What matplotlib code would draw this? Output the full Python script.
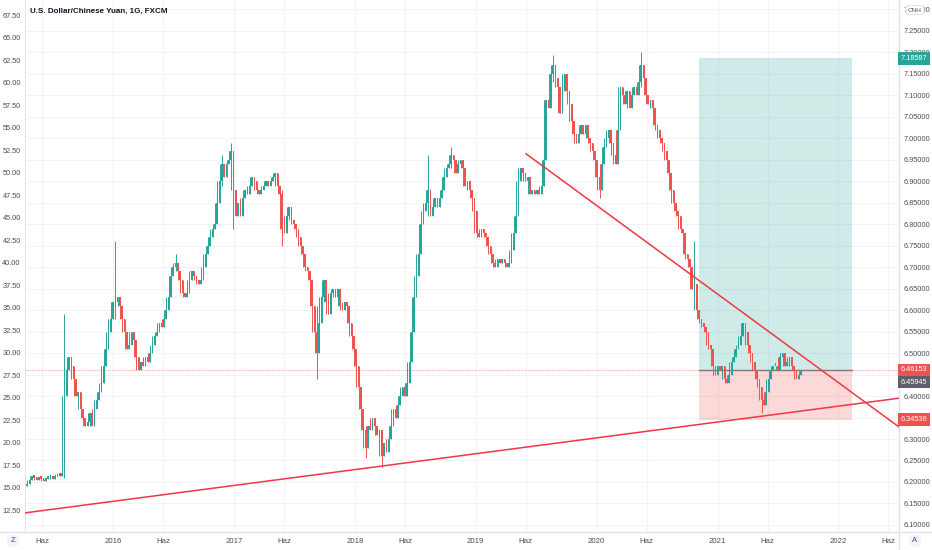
import matplotlib.pyplot as plt
import matplotlib.transforms as mtransforms
from matplotlib.lines import Line2D
import numpy as np
import pandas as pd

# weekly closes of USD/CNH (Apr 2015 - Sep 2021)
closes = [
    6.195, 6.205, 6.215, 6.210, 6.205, 6.212, 6.208, 6.203, 6.207, 6.210,
    6.212, 6.208, 6.213, 6.218, 6.215, 6.220, 6.400, 6.460, 6.490, 6.470,
    6.440, 6.400, 6.410, 6.370, 6.350, 6.330, 6.340, 6.360, 6.330, 6.370,
    6.390, 6.410, 6.430, 6.470, 6.510, 6.550, 6.580, 6.620, 6.620, 6.630,
    6.610, 6.580, 6.550, 6.510, 6.520, 6.550, 6.530, 6.490, 6.460, 6.480,
    6.470, 6.490, 6.480, 6.500, 6.520, 6.540, 6.550, 6.570, 6.560, 6.580,
    6.600, 6.630, 6.680, 6.700, 6.710, 6.690, 6.670, 6.640, 6.630, 6.640,
    6.670, 6.690, 6.680, 6.670, 6.660, 6.670, 6.700, 6.730, 6.750, 6.770,
    6.790, 6.800, 6.850, 6.900, 6.940, 6.910, 6.940, 6.950, 6.970, 6.880,
    6.820, 6.850, 6.820, 6.860, 6.880, 6.870, 6.890, 6.910, 6.900, 6.880,
    6.870, 6.880, 6.890, 6.900, 6.890, 6.900, 6.910, 6.920, 6.890, 6.870,
    6.790, 6.780, 6.820, 6.840, 6.810, 6.800, 6.790, 6.770, 6.750, 6.730,
    6.700, 6.690, 6.670, 6.610, 6.550, 6.500, 6.570, 6.630, 6.670, 6.620,
    6.590, 6.640, 6.650, 6.630, 6.650, 6.610, 6.600, 6.620, 6.610, 6.570,
    6.540, 6.510, 6.470, 6.420, 6.370, 6.320, 6.280, 6.330, 6.320, 6.350,
    6.330, 6.310, 6.320, 6.260, 6.290, 6.270, 6.300, 6.330, 6.370, 6.350,
    6.380, 6.400, 6.420, 6.400, 6.430, 6.480, 6.550, 6.630, 6.680, 6.730,
    6.800, 6.830, 6.850, 6.880, 6.820, 6.840, 6.860, 6.840, 6.860, 6.880,
    6.910, 6.930, 6.940, 6.960, 6.950, 6.920, 6.940, 6.950, 6.930, 6.890,
    6.900, 6.880, 6.860, 6.830, 6.780, 6.770, 6.790, 6.780, 6.770, 6.750,
    6.730, 6.710, 6.700, 6.720, 6.710, 6.720, 6.710, 6.700, 6.710, 6.740,
    6.780, 6.820, 6.900, 6.930, 6.920, 6.900, 6.910, 6.870, 6.880, 6.870,
    6.880, 6.870, 6.890, 6.950, 7.090, 7.070, 7.150, 7.170, 7.140, 7.120,
    7.060, 7.110, 7.150, 7.110, 7.080, 7.040, 7.010, 6.990, 7.010, 7.030,
    7.010, 7.030, 7.000, 6.990, 6.970, 6.950, 6.910, 6.880, 6.940, 6.980,
    7.000, 7.020, 6.990, 6.960, 6.940, 7.020, 7.120, 7.100, 7.080, 7.110,
    7.070, 7.100, 7.120, 7.100, 7.130, 7.170, 7.140, 7.100, 7.080, 7.090,
    7.070, 7.030, 7.020, 7.000, 6.990, 6.970, 6.950, 6.920, 6.880, 6.850,
    6.830, 6.820, 6.790, 6.780, 6.730, 6.720, 6.700, 6.650, 6.660, 6.600,
    6.580, 6.570, 6.560, 6.550, 6.520, 6.510, 6.470, 6.450, 6.470, 6.460,
    6.470, 6.440, 6.430, 6.450, 6.480, 6.490, 6.510, 6.520, 6.540, 6.570,
    6.550, 6.520, 6.500, 6.480, 6.460, 6.440, 6.420, 6.390, 6.380, 6.410,
    6.440, 6.460, 6.470, 6.470, 6.460, 6.490, 6.500, 6.470, 6.480, 6.490,
    6.470, 6.460, 6.440, 6.450, 6.45945,
]
first_open = 6.190

# spikes that stick out of the bodies
wick_idx = [16, 38, 64, 84, 88, 89, 110, 125, 146, 153, 173, 183, 227, 247, 265, 288, 317]
wick_hi = [6.59, 6.76, 6.73, 6.96, 6.99, 6.97, 6.88, 6.61, 6.33, 6.32, 6.96, 6.98, 7.195, 6.94, 7.20, 6.76, 6.42]
wick_lo = [6.21, 6.58, 6.69, 6.89, 6.94, 6.79, 6.75, 6.44, 6.255, 6.235, 6.84, 6.93, 7.13, 6.86, 7.12, 6.63, 6.36]

entry = 6.46153
target = 7.18587
stop = 6.34536
last = 6.45945
box_dates = ['2020-11-06', '2022-02-12']

up_line_dates = ['2015-04-10', '2022-07-03']
up_line_prices = [6.128, 6.395]
down_line_dates = ['2019-06-02', '2022-07-03']
down_line_prices = [6.964, 6.328]

plt.rcParams['font.family'] = ['Liberation Sans', 'DejaVu Sans']

UP = '#26a69a'
DOWN = '#ef5350'
GRID = '#f0f3fa'
SEP = '#e0e3eb'
TXT = '#4a4d57'
FS = 5.3

fig = plt.figure(figsize=(9.32, 5.5), dpi=100)
ax = fig.add_axes([25 / 932, 18 / 550, 874 / 932, 532 / 550])

dates = pd.date_range('2015-04-17', periods=len(closes), freq='W-FRI')
cl = np.array(closes)
op = np.array([first_open] + closes[:-1])
nxt = np.array(closes[1:] + closes[-1:])
colors = [UP if c >= o else DOWN for o, c in zip(op, cl)]
body_lo = np.minimum(op, cl)
body_h = np.maximum(np.abs(cl - op), 0.006)

# wicks reach to the neighbouring closes, plus the visible spikes
hi = np.maximum(np.maximum(op, cl), nxt)
lo = np.minimum(np.minimum(op, cl), nxt)
for i, h, l in zip(wick_idx, wick_hi, wick_lo):
    hi[i] = max(hi[i], h)
    lo[i] = min(lo[i], l)
ax.vlines(dates, lo, hi, colors=colors, linewidth=0.7, zorder=3)
ax.bar(dates, body_h, bottom=body_lo, width=5, color=colors, linewidth=0, zorder=3)

# long position box
b0, b1 = pd.to_datetime(box_dates)
ax.fill_between([b0, b1], entry, target, color=UP, alpha=0.22, linewidth=0, zorder=1)
ax.fill_between([b0, b1], stop, entry, color=DOWN, alpha=0.22, linewidth=0, zorder=1)
ax.plot([b0, b1], [entry, entry], color='#787b86', linewidth=1, zorder=2)
ax.axhline(entry, color=DOWN, linewidth=0.8, linestyle=(0, (1, 1)), alpha=0.45, zorder=2)

# trend lines
ax.plot(pd.to_datetime(up_line_dates), up_line_prices, color='#f23645', linewidth=1.1, zorder=4)
ax.plot(pd.to_datetime(down_line_dates), down_line_prices, color='#f23645', linewidth=1.1, zorder=4)

ax.set_xlim(pd.Timestamp('2015-04-10'), pd.Timestamp('2022-07-03'))
ax.set_ylim(6.0835, 7.322)

# x ticks: June + January
xt = []
xl = []
for yr in range(2015, 2023):
    if yr > 2015:
        xt.append(pd.Timestamp(f'{yr}-01-01'))
        xl.append(str(yr))
    xt.append(pd.Timestamp(f'{yr}-06-01'))
    xl.append('Haz')
ax.set_xticks(xt)
ax.set_xticklabels(xl)
ax.tick_params(axis='x', length=0, pad=4, labelsize=5.6, labelcolor=TXT)

ax.yaxis.tick_right()
ax.set_yticks(np.arange(6.10, 7.301, 0.05))
ax.yaxis.set_major_formatter(plt.FuncFormatter(lambda v, p: f'{v:.5f}'))
ax.tick_params(axis='y', length=0, pad=3.5, labelsize=FS, labelcolor=TXT)
ax.grid(True, color=GRID, linewidth=0.8, zorder=0)
ax.set_axisbelow(True)

sec = ax.secondary_yaxis('left', functions=(lambda p: 65.755 + 47.75 * (p - 7.25),
                                            lambda v: 7.25 + (v - 65.755) / 47.75))
sec.set_yticks(np.arange(12.5, 67.6, 2.5))
sec.yaxis.set_major_formatter(plt.FuncFormatter(lambda v, p: f'{v:.2f}'))
sec.tick_params(length=0, pad=3, labelsize=FS, labelcolor=TXT)
sec.spines['left'].set_color(SEP)

ax.spines['top'].set_visible(False)
ax.spines['left'].set_visible(False)
ax.spines['right'].set_color(SEP)
ax.spines['bottom'].set_color(SEP)

fig.add_artist(Line2D([899 / 932, 899 / 932], [0, 1], color=SEP, linewidth=1))
fig.add_artist(Line2D([0, 1], [18 / 550, 18 / 550], color=SEP, linewidth=1))

ax.text(0.006, 0.985, 'U.S. Dollar/Chinese Yuan, 1G, FXCM', transform=ax.transAxes,
        fontsize=5.8, fontweight='bold', color='#131722', va='top', ha='left')

# price tags on the right scale (figure level so they sit above tick labels)
tag_trans = mtransforms.blended_transform_factory(fig.transFigure, ax.transData)
tags = [(target, UP, 0), (entry, DOWN, 0), (last, '#5d606b', -11.5), (stop, DOWN, 0)]
for val, col, dy in tags:
    tr = tag_trans + mtransforms.ScaledTranslation(0, dy / 100, fig.dpi_scale_trans)
    fig.text(914 / 932, val, f'{val:.5f}', transform=tr, fontsize=FS, color='white',
             va='center', ha='center',
             bbox=dict(boxstyle='square,pad=0.35', facecolor=col, edgecolor='none'))

fig.text(915 / 932, 1 - 10 / 550, 'CNH', fontsize=4.6, color=TXT, ha='center', va='center',
         bbox=dict(boxstyle='round,pad=0.3', facecolor='white', edgecolor=SEP, linewidth=0.8))
fig.text(13 / 932, 1 - 541 / 550, 'Z', fontsize=5.5, color=TXT, ha='center', va='center',
         bbox=dict(boxstyle='circle,pad=0.35', facecolor=GRID, edgecolor='none'))
fig.text(915 / 932, 1 - 541 / 550, 'A', fontsize=5.5, color=TXT, ha='center', va='center',
         bbox=dict(boxstyle='circle,pad=0.35', facecolor=GRID, edgecolor='none'))

fig.savefig('out.png', dpi=100)
